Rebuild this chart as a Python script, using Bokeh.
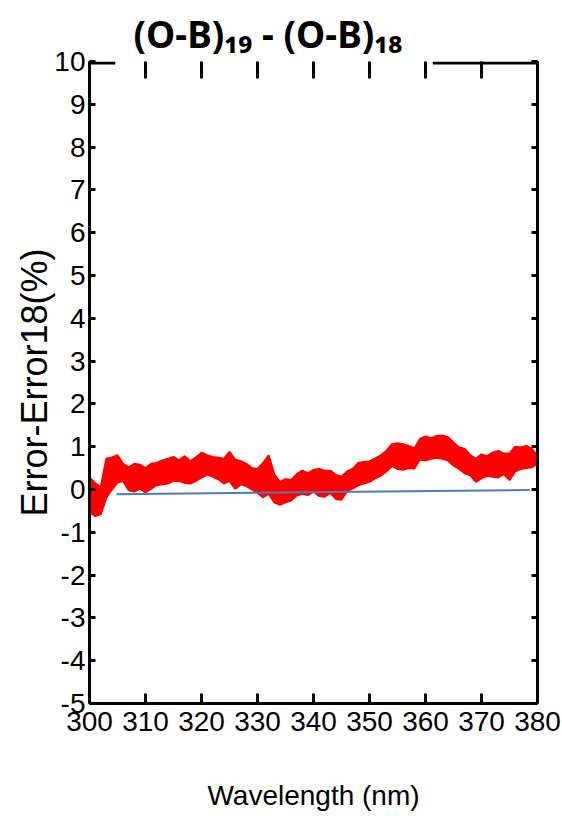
import numpy as np
from bokeh.plotting import figure
from bokeh.models import (Range1d, LinearAxis, FixedTicker, BoxAnnotation,
                          CustomJSTickFormatter)
from bokeh.embed import file_html
from bokeh.resources import INLINE

# ---- data ----
x_ticks = [300, 310, 320, 330, 340, 350, 360, 370, 380]
y_ticks = [-5, -4, -3, -2, -1, 0, 1, 2, 3, 4, 5, 6, 7, 8, 9, 10]

wavelength = np.arange(300, 381)  # 1 nm steps, 300..380

# top and bottom of the noisy red band (%), one value per nm
err_upper = [
    0.28, 0.15, 0.05, 0.72, 0.75, 0.80, 0.60, 0.52, 0.60, 0.58,
    0.50, 0.60, 0.62, 0.68, 0.72, 0.76, 0.68, 0.78, 0.66, 0.75,
    0.86, 0.80, 0.76, 0.74, 0.72, 0.88, 0.70, 0.66, 0.60, 0.50,
    0.48, 0.62, 0.80, 0.35, 0.18, 0.24, 0.22, 0.36, 0.44, 0.38,
    0.46, 0.48, 0.44, 0.44, 0.34, 0.30, 0.42, 0.48, 0.62, 0.64,
    0.66, 0.72, 0.80, 0.90, 1.06, 1.08, 1.06, 1.02, 0.96, 1.18,
    1.24, 1.20, 1.25, 1.26, 1.22, 1.10, 0.98, 0.95, 0.80, 0.72,
    0.82, 0.78, 0.86, 0.90, 0.84, 0.84, 1.00, 0.98, 1.02, 0.95,
    0.78,
]
err_lower = [
    -0.53, -0.62, -0.58, -0.19, 0.00, 0.16, 0.20, -0.02, -0.05, 0.02,
    -0.07, 0.02, 0.10, 0.12, 0.14, 0.20, 0.20, 0.15, 0.14, 0.20,
    0.28, 0.35, 0.30, 0.24, 0.14, 0.20, 0.02, 0.12, 0.08, 0.00,
    -0.08, -0.18, -0.10, -0.30, -0.36, -0.30, -0.26, -0.14, -0.10, -0.13,
    -0.05, -0.15, -0.17, -0.08, -0.22, -0.24, -0.04, 0.02, 0.10, 0.14,
    0.18, 0.26, 0.32, 0.42, 0.55, 0.48, 0.46, 0.50, 0.49, 0.70,
    0.68, 0.72, 0.74, 0.72, 0.68, 0.56, 0.48, 0.38, 0.33, 0.18,
    0.26, 0.32, 0.30, 0.28, 0.36, 0.22, 0.42, 0.48, 0.50, 0.52,
    0.60,
]

# blue reference line
trend_wavelength = [304.8, 378.6]
trend_value = [-0.11, -0.01]

# ---- style constants ----
TICK_FONT = "Liberation Sans"
TOP_GAP = (304.6, 361.3)   # where the title box hides the top border (nm)

p = figure(width=562, height=824, output_backend="svg", toolbar_location=None,
           x_range=Range1d(300, 380), y_range=Range1d(-5, 10),
           min_border_left=89, min_border_right=25, min_border_top=61,
           min_border_bottom=121)
p.grid.visible = False
p.outline_line_color = None
p.background_fill_color = "white"
p.border_fill_color = "white"

# noisy band: filled area between the envelopes with jagged edges
p.varea(x=wavelength, y1=err_lower, y2=err_upper, fill_color="#ff0000")
p.line(wavelength, err_upper, line_color="#ff0000", line_width=2)
p.line(wavelength, err_lower, line_color="#ff0000", line_width=2)
p.line(trend_wavelength, trend_value, line_color="#4a7ebb", line_width=2)

plain = CustomJSTickFormatter(code="return tick.toString()")
blank = CustomJSTickFormatter(code="return ''")

def style_axis(ax, tick_len):
    ax.axis_line_width = 3
    ax.axis_line_color = "black"
    ax.major_tick_line_width = 3
    ax.major_tick_line_color = "black"
    ax.major_tick_in = tick_len
    ax.major_tick_out = 0
    ax.minor_tick_line_color = None
    ax.major_label_text_color = "black"
    ax.axis_label_text_color = "black"

xa = p.xaxis[0]
xa.ticker = FixedTicker(ticks=x_ticks)
xa.formatter = plain
style_axis(xa, 10)
xa.major_label_text_font = TICK_FONT
xa.major_label_text_font_size = "28px"
xa.major_label_standoff = 8
xa.axis_label = "Wavelength (nm)"
xa.axis_label_text_font = TICK_FONT
xa.axis_label_text_font_size = "28px"
xa.axis_label_text_font_style = "normal"
xa.axis_label_standoff = 46

ya = p.yaxis[0]
ya.ticker = FixedTicker(ticks=y_ticks)
ya.formatter = plain
style_axis(ya, 6)
ya.major_label_text_font = TICK_FONT
ya.major_label_text_font_size = "28px"
ya.major_label_standoff = 4
ya.axis_label = "Error-Error18(%)"
ya.axis_label_text_font = TICK_FONT
ya.axis_label_text_font_size = "36px"
ya.axis_label_text_font_style = "normal"
ya.axis_label_standoff = -4

ra = LinearAxis(ticker=FixedTicker(ticks=y_ticks), formatter=blank)
style_axis(ra, 6)
ra.major_label_standoff = 0
ra.major_label_text_font_size = "1px"
p.add_layout(ra, "right")

ta = LinearAxis(ticker=FixedTicker(ticks=x_ticks), formatter=blank)
style_axis(ta, 17)
ta.axis_line_color = None
ta.major_label_standoff = 0
ta.major_label_text_font_size = "1px"
p.add_layout(ta, "above")

# visible pieces of the top border (the middle is hidden by the title box)
p.add_layout(BoxAnnotation(left=300, right=TOP_GAP[0], top=10, bottom=9.93,
                           fill_color="black", fill_alpha=1.0, line_color=None))
p.add_layout(BoxAnnotation(left=TOP_GAP[1], right=380, top=10, bottom=9.93,
                           fill_color="black", fill_alpha=1.0, line_color=None))

# title with subscripts
p.title.text = "(O-B)\u2081\u2089 - (O-B)\u2081\u2088"
p.title.text_font = "Noto Sans"
p.title.text_font_style = "bold"
p.title.text_font_size = "37px"
p.title.align = "left"
p.title.offset = 44
p.title.standoff = 6
p.title.text_color = "black"

open("out.html", "w").write(file_html(p, INLINE))
